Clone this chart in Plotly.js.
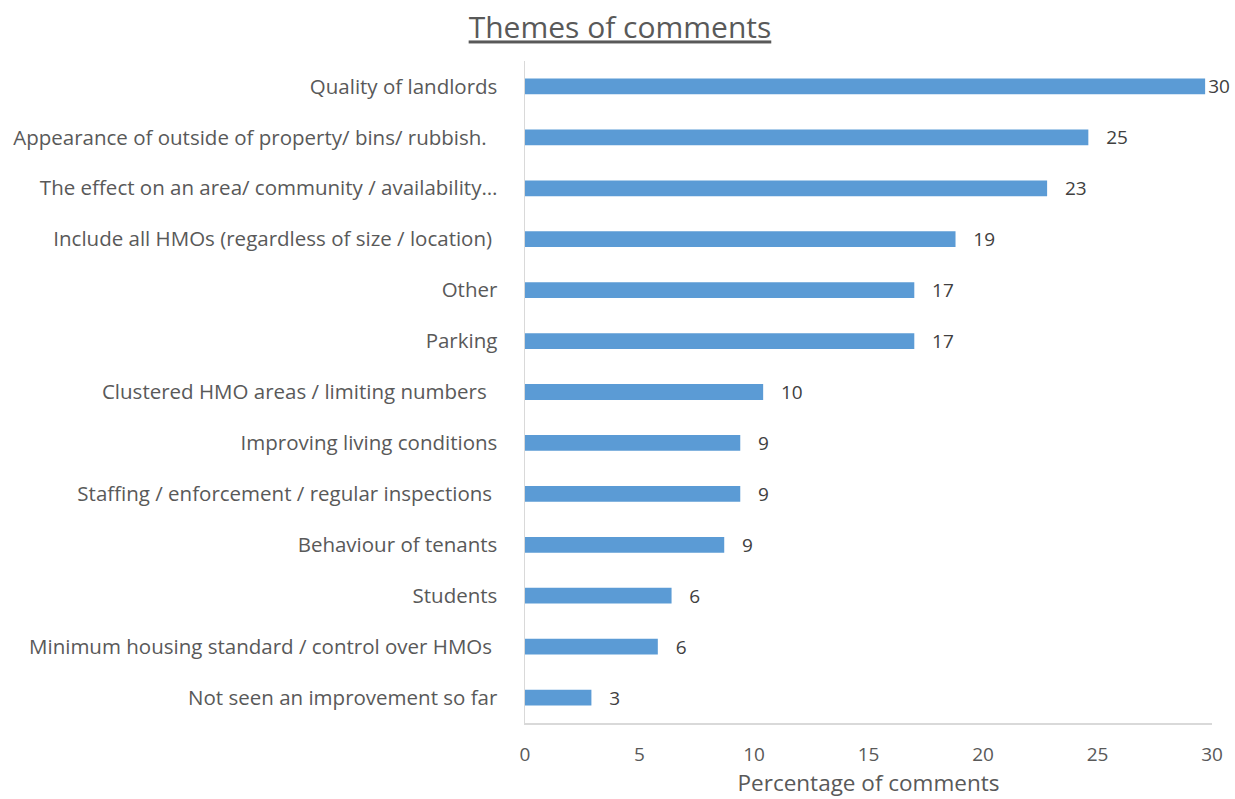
<!DOCTYPE html>
<html>
<head>
<meta charset="utf-8">
<script src="https://cdn.plot.ly/plotly-3.0.1.min.js"></script>
<style>html,body{margin:0;padding:0;background:#fff;}#chart{width:1235px;height:799px;}</style>
</head>
<body>
<div id="chart"></div>
<script>
const categories = [
  "Quality of landlords",
  "Appearance of outside of property/ bins/ rubbish.\u00a0\u00a0",
  "The effect on an area/ community / availability\u2026",
  "Include all HMOs (regardless of size / location)\u00a0",
  "Other",
  "Parking",
  "Clustered HMO areas / limiting numbers\u00a0\u00a0",
  "Improving living conditions",
  "Staffing / enforcement / regular inspections\u00a0",
  "Behaviour of tenants",
  "Students",
  "Minimum housing standard / control over HMOs\u00a0",
  "Not seen an improvement so far"
];
const values = [29.7, 24.6, 22.8, 18.8, 17.0, 17.0, 10.4, 9.4, 9.4, 8.7, 6.4, 5.8, 2.9];
const xTicks = [0, 5, 10, 15, 20, 25, 30];

const maxV = Math.max(...values);
const labels = values.map(v => (v === maxV ? '' : '\u00a0\u00a0\u00a0') + Math.round(v));

const font = "Open Sans, Liberation Sans, sans-serif";

const trace = {
  type: 'bar',
  orientation: 'h',
  y: categories,
  x: values,
  marker: {color: '#5b9bd5'},
  width: 0.31,
  text: labels,
  textposition: 'outside',
  constraintext: 'none',
  cliponaxis: false,
  textfont: {family: font, size: 19, color: '#404040'},
  hoverinfo: 'x+y'
};

const layout = {
  width: 1235, height: 799,
  margin: {l: 525, r: 23, t: 61, b: 76},
  paper_bgcolor: '#ffffff', plot_bgcolor: '#ffffff',
  showlegend: false,
  title: {
    text: '<u>Themes of comments</u>',
    font: {family: font, size: 30, color: '#595959'},
    x: 0.502, xref: 'container', xanchor: 'center',
    y: 0.965, yref: 'container', yanchor: 'middle'
  },
  xaxis: {
    range: [0, 30], tickvals: xTicks,
    showgrid: false, zeroline: false,
    showline: true, linecolor: '#d9d9d9', linewidth: 1.5,
    ticks: '', ticklabelstandoff: 14,
    tickfont: {family: font, size: 19, color: '#595959'},
    title: {text: 'Percentage of comments', font: {family: font, size: 22.5, color: '#595959'}, standoff: 4}
  },
  yaxis: {
    autorange: 'reversed', type: 'category',
    showgrid: false, zeroline: false,
    showline: true, linecolor: '#d9d9d9', linewidth: 1.5,
    ticks: '', ticklabelstandoff: 22,
    tickfont: {family: font, size: 20.5, color: '#595959'}
  },
  bargap: 0.69
};

Plotly.newPlot('chart', [trace], layout, {displayModeBar: false, staticPlot: true});
</script>
</body>
</html>
